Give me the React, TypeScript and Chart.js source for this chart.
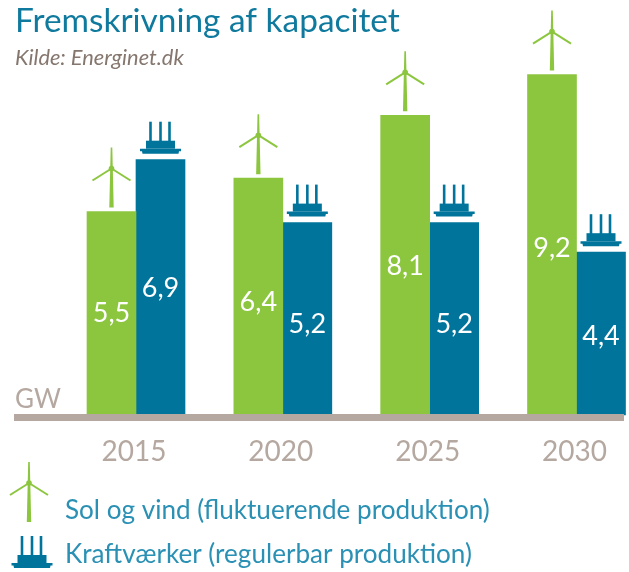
import React, { useEffect, useRef } from "react";
import { Chart, registerables } from "chart.js";

Chart.register(...registerables);

const categories = ["2015", "2020", "2025", "2030"];
const solOgVind = [5.5, 6.4, 8.1, 9.2];
const kraftvaerker = [6.9, 5.2, 5.2, 4.4];
const titleText = "Fremskrivning af kapacitet";
const sourceText = "Kilde: Energinet.dk";
const unitText = "GW";
const legendLabels = ["Sol og vind (fluktuerende produktion)", "Kraftværker (regulerbar produktion)"];

const GREEN = "#8cc63f";
const BLUE = "#00749b";
const TITLE = "#0f7a9e";
const LEGEND = "#2a90b4";
const TAUPE = "#b5a8a0";
const SOURCE = "#85766e";
const FONT = 'Lato, "Noto Sans", sans-serif';
const LABEL_SHIFT = [[0, 6, 1, 3], [1, 5, 5, 3]];

function turbine(ctx: CanvasRenderingContext2D, cx: number, bottom: number) {
  const top = bottom - 60;
  const hubY = top + 21;
  ctx.fillStyle = GREEN;
  ctx.beginPath();
  ctx.moveTo(cx - 0.8, top);
  ctx.lineTo(cx + 0.8, top);
  ctx.lineTo(cx + 2.2, bottom);
  ctx.lineTo(cx - 2.2, bottom);
  ctx.closePath();
  ctx.fill();
  ctx.beginPath();
  ctx.arc(cx, hubY, 2.8, 0, Math.PI * 2);
  ctx.fill();
  ctx.strokeStyle = GREEN;
  ctx.lineWidth = 2;
  [-1, 1].forEach((s) => {
    ctx.beginPath();
    ctx.moveTo(cx, hubY);
    ctx.lineTo(cx + s * 19, hubY + 12);
    ctx.stroke();
  });
}

function plant(ctx: CanvasRenderingContext2D, cx: number, bottom: number) {
  ctx.fillStyle = BLUE;
  [-10, 0, 9].forEach((dx) => ctx.fillRect(cx + dx - 1.3, bottom - 32, 2.6, 22));
  ctx.fillRect(cx - 14.5, bottom - 13, 29, 8);
  ctx.beginPath();
  ctx.moveTo(cx - 20.5, bottom - 5);
  ctx.lineTo(cx + 20.5, bottom - 5);
  ctx.lineTo(cx + 20.5, bottom - 2.5);
  ctx.lineTo(cx + 18.5, bottom - 2.5);
  ctx.lineTo(cx + 18, bottom);
  ctx.lineTo(cx - 18, bottom);
  ctx.lineTo(cx - 18.5, bottom - 2.5);
  ctx.lineTo(cx - 20.5, bottom - 2.5);
  ctx.closePath();
  ctx.fill();
}

const artwork = {
  id: "artwork",
  afterDatasetsDraw(chart: any) {
    const { ctx, scales } = chart;
    const base = scales.y.getPixelForValue(0);
    ctx.save();
    // baseline
    ctx.fillStyle = TAUPE;
    ctx.fillRect(14, base - 1, 610, 7);
    // value labels and icons on the bars
    ctx.textAlign = "center";
    ctx.textBaseline = "middle";
    ctx.font = `27px ${FONT}`;
    [0, 1].forEach((di) => {
      chart.getDatasetMeta(di).data.forEach((bar: any, i: number) => {
        const v = chart.data.datasets[di].data[i] as number;
        ctx.fillStyle = "#fff";
        ctx.fillText(v.toFixed(1).replace(".", ","), bar.x, (bar.y + base) / 2 + LABEL_SHIFT[di][i]);
        if (di === 0) turbine(ctx, bar.x, bar.y - 4);
        else plant(ctx, bar.x, bar.y - 6);
      });
    });
    // texts
    ctx.textAlign = "left";
    ctx.textBaseline = "alphabetic";
    ctx.fillStyle = TITLE;
    ctx.font = `33.4px ${FONT}`;
    ctx.fillText(titleText, 15, 32);
    ctx.fillStyle = SOURCE;
    ctx.font = `italic 21.8px ${FONT}`;
    ctx.fillText(sourceText, 15, 65);
    ctx.fillStyle = TAUPE;
    ctx.font = `26px ${FONT}`;
    ctx.fillText(unitText, 15, 408);
    // legend
    turbine(ctx, 29, 522);
    plant(ctx, 32, 568);
    ctx.fillStyle = LEGEND;
    ctx.font = `26.1px ${FONT}`;
    ctx.fillText(legendLabels[0], 65, 519);
    ctx.fillText(legendLabels[1], 65, 563);
    ctx.restore();
  },
};

export default function App() {
  const ref = useRef<HTMLCanvasElement>(null);
  useEffect(() => {
    const chart = new Chart(ref.current!, {
      type: "bar",
      data: {
        labels: categories,
        datasets: [
          { label: legendLabels[0], data: solOgVind, backgroundColor: GREEN, barThickness: 49, clip: false },
          { label: legendLabels[1], data: kraftvaerker, backgroundColor: BLUE, barThickness: 49, clip: false },
        ],
      },
      options: {
        responsive: false,
        animation: false,
        layout: { padding: { left: 136, right: 52.5, top: 45, bottom: 100 } },
        plugins: { legend: { display: false }, title: { display: false }, tooltip: { enabled: false } },
        scales: {
          x: {
            offset: false,
            grid: { display: false },
            border: { display: false },
            afterFit: (s: any) => { s.height = 57; },
            ticks: {
              color: TAUPE,
              font: { family: "Lato, sans-serif", size: 28 },
              padding: 12,
              labelOffset: -2,
              maxRotation: 0,
              autoSkip: false,
            },
          },
          y: { display: false, min: 0, max: 10 },
        },
      },
      plugins: [artwork],
    } as any);
    return () => chart.destroy();
  }, []);
  return (
    <div style={{ position: "absolute", left: 0, top: 0, width: 629, height: 572, background: "#fff", overflow: "hidden" }}>
      <canvas ref={ref} width={629} height={572} style={{ display: "block" }} />
    </div>
  );
}
